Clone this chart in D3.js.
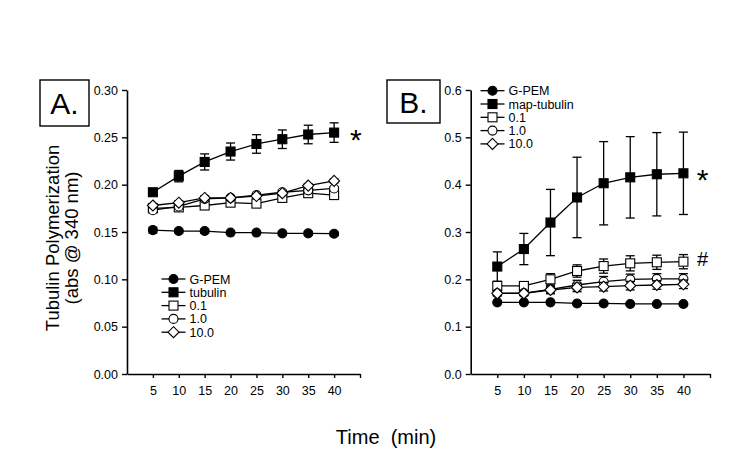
<!DOCTYPE html>
<html>
<head>
<meta charset="utf-8">
<script src="https://cdn.jsdelivr.net/npm/d3@7"></script>
<style>
  body { margin: 0; background: #fff; }
  svg { font-family: Arial, "Liberation Sans", sans-serif; }
</style>
</head>
<body>
<div id="chart"></div>
<script>
'use strict';

// time points (min)
const times = [5, 10, 15, 20, 25, 30, 35, 40];
const xTicks = [5, 10, 15, 20, 25, 30, 35, 40, 45];

// Panel A
const aGpem      = [0.152, 0.151, 0.151, 0.1494, 0.1494, 0.1486, 0.1486, 0.1482];
const aGpemErr   = [0.003, 0.002, 0.002, 0.001, 0.001, 0.002, 0.002, 0.002];
const aTub       = [0.192, 0.209, 0.224, 0.235, 0.243, 0.248, 0.253, 0.255];
const aTubErr    = [0.002, 0.006, 0.0085, 0.009, 0.0098, 0.0098, 0.0098, 0.0103];
const a01        = [0.175, 0.176, 0.178, 0.181, 0.180, 0.186, 0.191, 0.189];
const a10        = [0.173, 0.177, 0.185, 0.186, 0.189, 0.192, 0.194, 0.196];
const a100       = [0.178, 0.181, 0.186, 0.186, 0.188, 0.191, 0.199, 0.204];
const aSmallErr  = [0.002, 0.002, 0.002, 0.002, 0.002, 0.002, 0.002, 0.002];
const aLabels    = ['G-PEM', 'tubulin', '0.1', '1.0', '10.0'];
const aYTicks    = [0, 0.05, 0.10, 0.15, 0.20, 0.25, 0.30];

// Panel B
const bGpem      = [0.1514, 0.1514, 0.1514, 0.149, 0.149, 0.148, 0.148, 0.148];
const bGpemErr   = [0.002, 0.002, 0.002, 0.002, 0.002, 0.002, 0.002, 0.002];
const bMap       = [0.227, 0.264, 0.320, 0.373, 0.403, 0.4155, 0.422, 0.424];
const bMapErr    = [0.031, 0.033, 0.070, 0.085, 0.088, 0.086, 0.088, 0.087];
const b01        = [0.186, 0.186, 0.200, 0.2176, 0.228, 0.2338, 0.236, 0.2373];
const b01Err     = [0.006, 0.006, 0.012, 0.013, 0.015, 0.016, 0.015, 0.015];
const b10        = [0.1704, 0.171, 0.179, 0.188, 0.195, 0.200, 0.201, 0.201];
const b10Err     = [0.005, 0.005, 0.008, 0.010, 0.011, 0.011, 0.011, 0.011];
const b100       = [0.1704, 0.1704, 0.1775, 0.183, 0.1845, 0.1866, 0.188, 0.1895];
const b100Err    = [0.005, 0.005, 0.008, 0.009, 0.009, 0.009, 0.009, 0.009];
const bLabels    = ['G-PEM', 'map-tubulin', '0.1', '1.0', '10.0'];
const bYTicks    = [0, 0.1, 0.2, 0.3, 0.4, 0.5, 0.6];

const shapes = ['circle', 'square', 'square', 'circle', 'diamond'];
const fills  = ['#000', '#000', '#fff', '#fff', '#fff'];

const svg = d3.select('#chart').append('svg')
    .attr('width', 750).attr('height', 474);

function marker(g, shape, fill, cx, cy){
    if(shape === 'circle'){
        g.append('circle').attr('cx', cx).attr('cy', cy).attr('r', 4.5)
            .attr('fill', fill).attr('stroke', '#000').attr('stroke-width', 1.1);
    } else if(shape === 'square'){
        g.append('rect').attr('x', cx - 4.5).attr('y', cy - 4.5)
            .attr('width', 9).attr('height', 9)
            .attr('fill', fill).attr('stroke', '#000').attr('stroke-width', 1.1);
    } else {
        g.append('path')
            .attr('d', 'M' + cx + ',' + (cy - 5.5) + 'L' + (cx + 5.5) + ',' + cy +
                       'L' + cx + ',' + (cy + 5.5) + 'L' + (cx - 5.5) + ',' + cy + 'Z')
            .attr('fill', fill).attr('stroke', '#000').attr('stroke-width', 1.1);
    }
}

function panel(opts){
    const x = d3.scaleLinear().domain([0, 45]).range([opts.left, opts.right]);
    const y = d3.scaleLinear().domain(opts.yDomain).range([374, 90]);

    // y axis
    const yAxis = svg.append('g')
        .attr('transform', 'translate(' + opts.left + ',0)')
        .call(d3.axisLeft(y).tickValues(opts.yTicks).tickFormat(d3.format(opts.fmt))
            .tickSizeInner(5).tickSizeOuter(0).tickPadding(4));
    // x axis
    const xAxis = svg.append('g')
        .attr('transform', 'translate(0,374)')
        .call(d3.axisBottom(x).tickValues(xTicks)
            .tickFormat(d => d === 45 ? '' : d)
            .tickSizeInner(4).tickSizeOuter(0).tickPadding(8));
    [yAxis, xAxis].forEach(function(a){
        a.select('.domain').attr('stroke', '#000').attr('stroke-width', 1.6);
        a.selectAll('.tick line').attr('stroke', '#000').attr('stroke-width', 1.4);
        a.selectAll('text').attr('font-size', 12.5).attr('fill', '#000')
            .attr('font-family', 'Arial, "Liberation Sans", sans-serif');
    });

    const line = d3.line().x((d, i) => x(times[i])).y(d => y(d));

    opts.series.forEach(function(s, k){
        const g = svg.append('g');
        g.append('path').datum(s.values).attr('d', line)
            .attr('fill', 'none').attr('stroke', '#000').attr('stroke-width', 1.3);
        s.values.forEach(function(v, i){
            const e = s.err[i];
            const cx = x(times[i]);
            g.append('line').attr('x1', cx).attr('x2', cx)
                .attr('y1', y(v - e)).attr('y2', y(v + e))
                .attr('stroke', '#000').attr('stroke-width', 1.3);
            [v - e, v + e].forEach(function(w){
                g.append('line').attr('x1', cx - 4.5).attr('x2', cx + 4.5)
                    .attr('y1', y(w)).attr('y2', y(w))
                    .attr('stroke', '#000').attr('stroke-width', 1.3);
            });
        });
        s.values.forEach(function(v, i){
            marker(g, shapes[k], fills[k], x(times[i]), y(v));
        });
    });

    // legend
    const lg = svg.append('g');
    opts.labels.forEach(function(lab, k){
        const ly = opts.legY + k * 13.3;
        lg.append('line').attr('x1', opts.legX).attr('x2', opts.legX + 24)
            .attr('y1', ly).attr('y2', ly).attr('stroke', '#000').attr('stroke-width', 1.3);
        marker(lg, shapes[k], fills[k], opts.legX + 12, ly);
        lg.append('text').attr('x', opts.legX + 28).attr('y', ly + 4.5)
            .attr('font-size', 12.5).text(lab);
    });

    // panel label box
    svg.append('rect').attr('x', opts.box[0]).attr('y', opts.box[1])
        .attr('width', opts.box[2]).attr('height', opts.box[3])
        .attr('fill', 'none').attr('stroke', '#000').attr('stroke-width', 1.4);
    svg.append('text').attr('x', opts.box[0] + opts.box[2] / 2)
        .attr('y', opts.box[1] + opts.box[3] / 2 + 11)
        .attr('text-anchor', 'middle').attr('font-size', 30).text(opts.name);

    opts.marks.forEach(function(m){
        svg.append('text').attr('x', x(m.t)).attr('y', y(m.v))
            .attr('font-size', m.size).attr('text-anchor', 'middle').text(m.txt);
    });
}

panel({
    left: 127, right: 360, yDomain: [0, 0.30], yTicks: aYTicks, fmt: '.2f',
    series: [
        {values: aGpem, err: aGpemErr},
        {values: aTub, err: aTubErr},
        {values: a01, err: aSmallErr},
        {values: a10, err: aSmallErr},
        {values: a100, err: aSmallErr}
    ],
    labels: aLabels, legX: 161.5, legY: 279,
    box: [40, 80, 49, 46], name: 'A.',
    marks: [{t: 44.2, v: 0.237, txt: '*', size: 30}]
});

panel({
    left: 470.7, right: 710, yDomain: [0, 0.6], yTicks: bYTicks, fmt: '.1f',
    series: [
        {values: bGpem, err: bGpemErr},
        {values: bMap, err: bMapErr},
        {values: b01, err: b01Err},
        {values: b10, err: b10Err},
        {values: b100, err: b100Err}
    ],
    labels: bLabels, legX: 480.5, legY: 90.7,
    box: [387, 80, 53, 43], name: 'B.',
    marks: [{t: 43.6, v: 0.388, txt: '*', size: 30},
            {t: 43.6, v: 0.228, txt: '#', size: 20}]
});

// shared axis titles
svg.append('text').attr('transform', 'translate(59,238) rotate(-90)')
    .attr('text-anchor', 'middle').attr('font-size', 18.5).text('Tubulin Polymerization');
svg.append('text').attr('transform', 'translate(78,238) rotate(-90)')
    .attr('text-anchor', 'middle').attr('font-size', 18.5).text('(abs @ 340 nm)');
svg.append('text').attr('x', 386).attr('y', 444)
    .attr('text-anchor', 'middle').attr('font-size', 20)
    .style('white-space', 'pre').text('Time  (min)');
</script>
</body>
</html>
